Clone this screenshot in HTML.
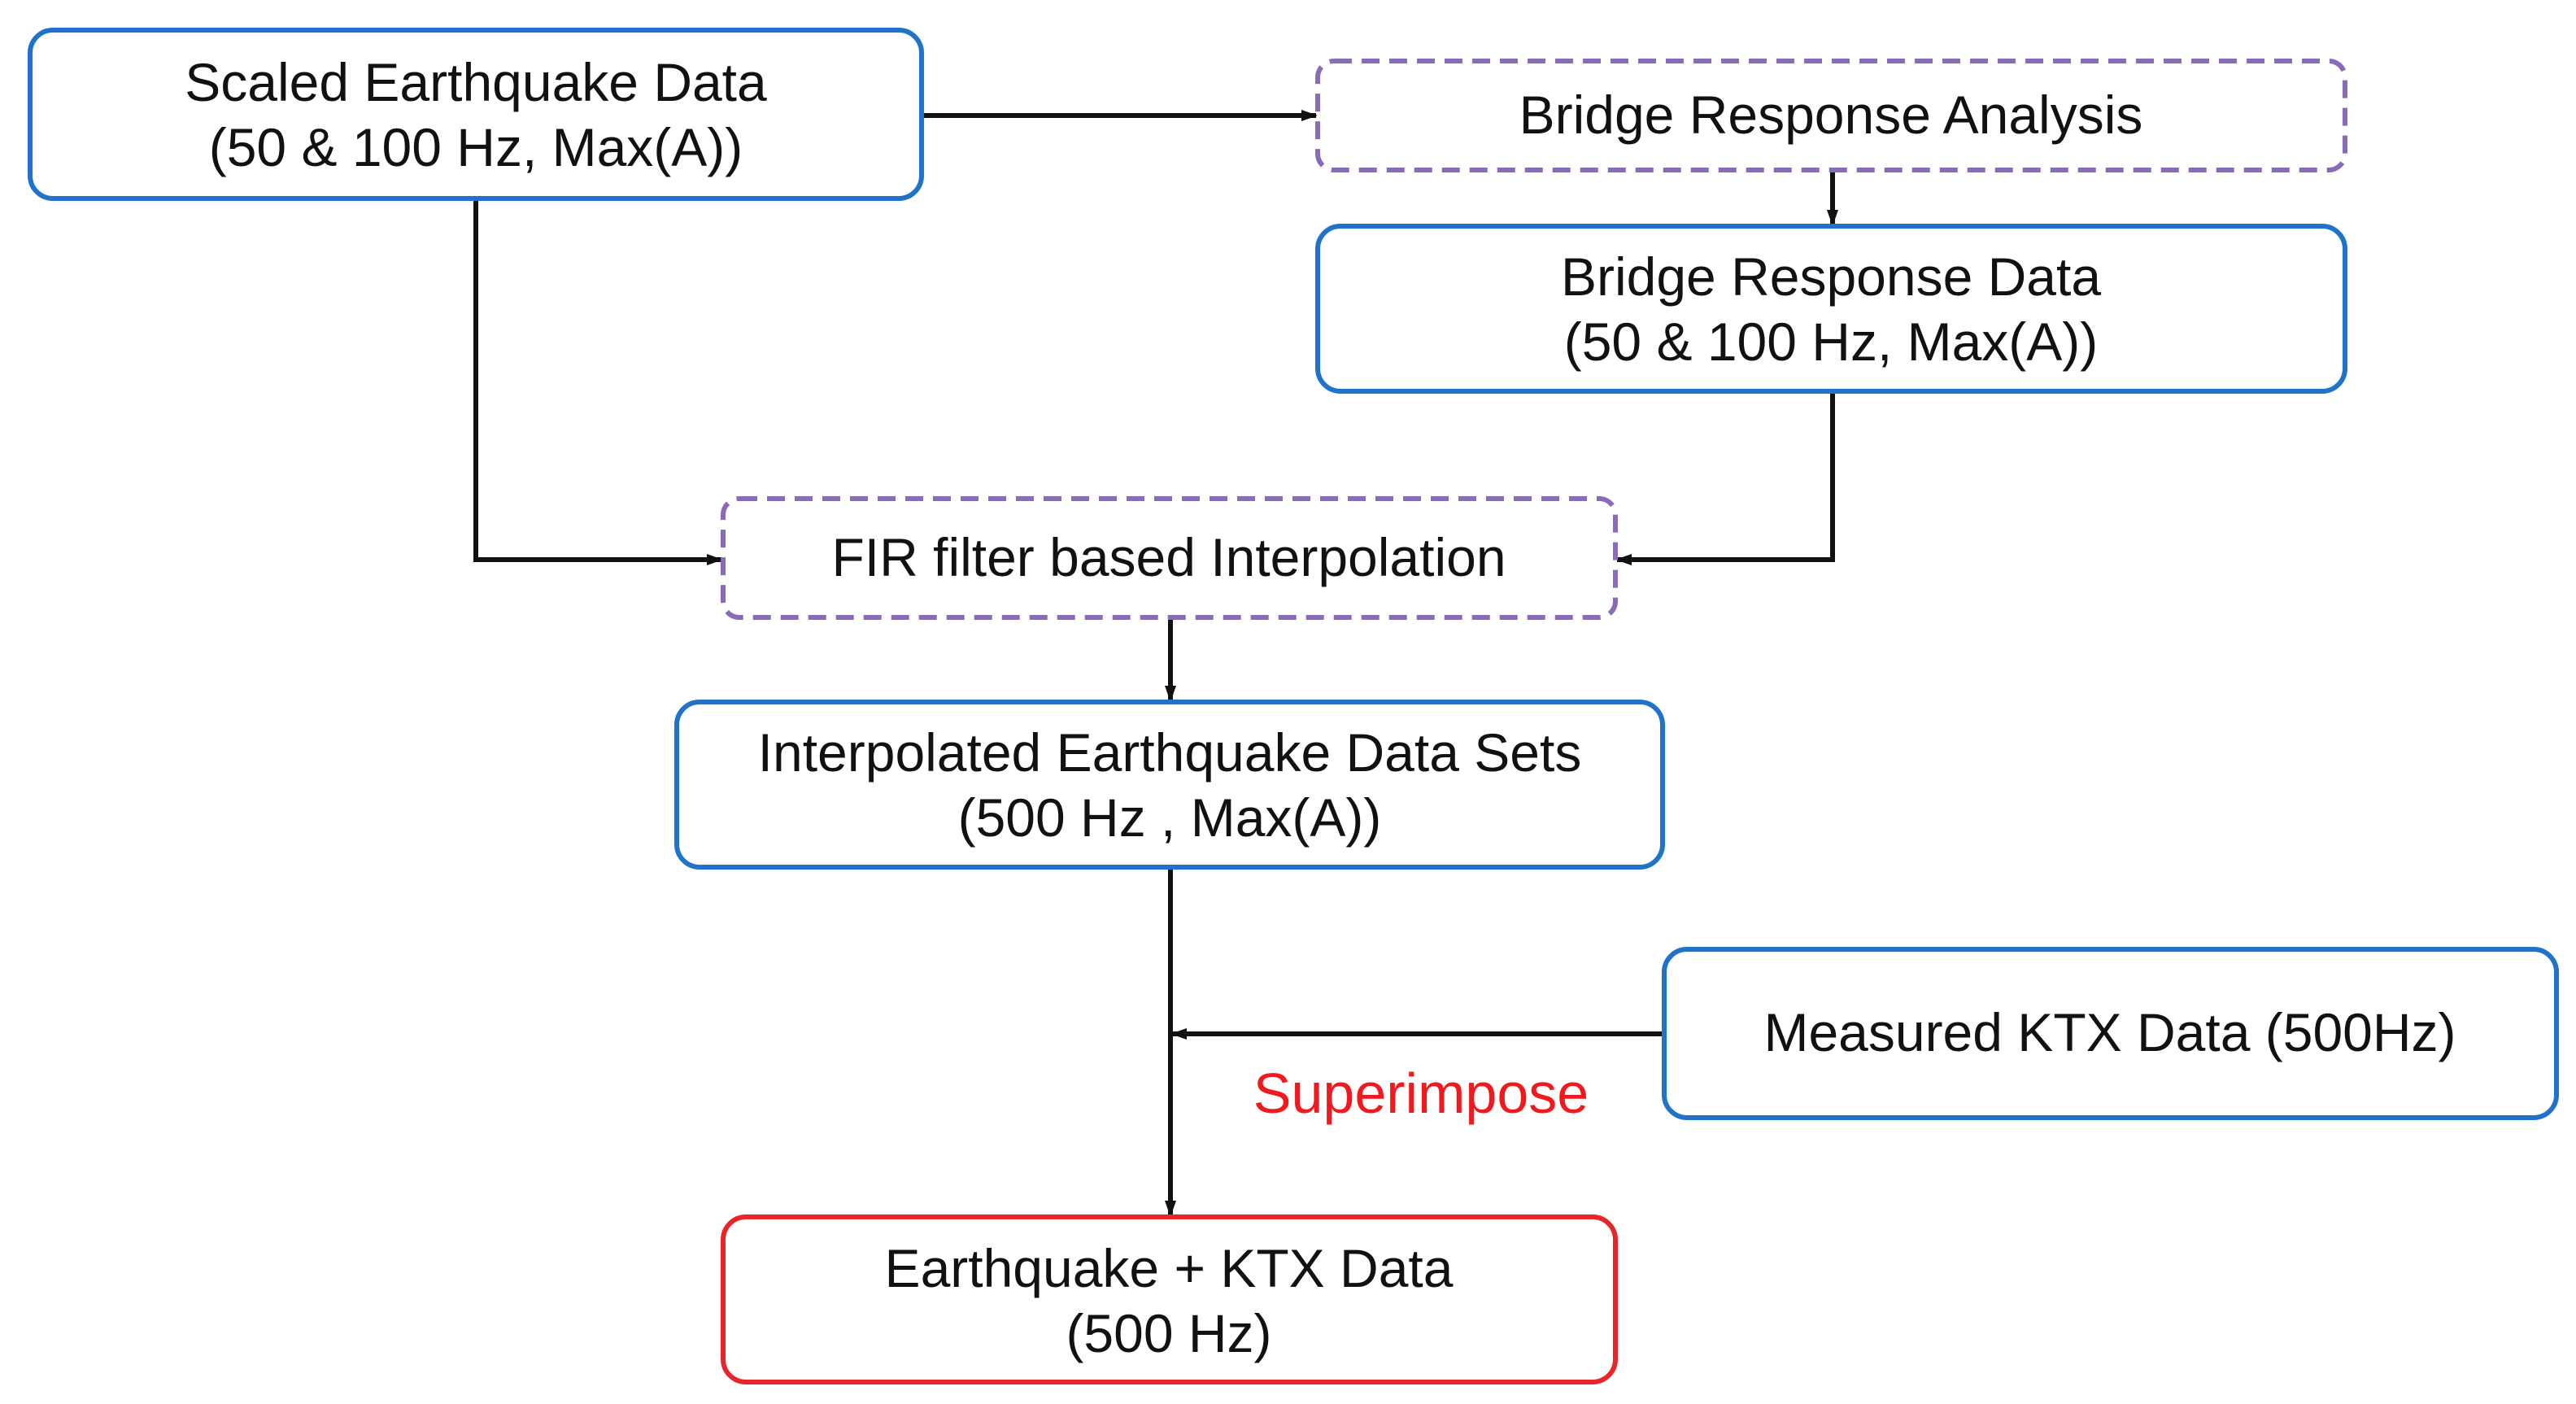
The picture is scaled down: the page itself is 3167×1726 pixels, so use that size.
<!DOCTYPE html>
<html><head><meta charset="utf-8"><style>
html,body{margin:0;padding:0;background:#fff;}
svg{display:block;}
text{font-family:"Liberation Sans","Noto Sans CJK KR",sans-serif;font-size:66px;fill:#111;text-anchor:middle;}
</style></head><body>
<svg width="3167" height="1726" viewBox="0 0 3167 1726" xmlns="http://www.w3.org/2000/svg">
<defs>
<marker id="b" markerWidth="20" markerHeight="20" refX="18" refY="10" orient="auto" markerUnits="userSpaceOnUse" viewBox="0 0 20 20">
<path d="M0,3 L20,10 L0,17 z" fill="#111"/></marker>
</defs>
<g fill="none" stroke="#111" stroke-width="6">
<path d="M1133 142 H1618" marker-end="url(#b)"/>
<path d="M2253 209 V276" marker-end="url(#b)"/>
<path d="M585 244 V688 H887" marker-end="url(#b)"/>
<path d="M2253 481 V688 H1988" marker-end="url(#b)"/>
<path d="M1439 759 V861" marker-end="url(#b)"/>
<path d="M1439 1066 V1494" marker-end="url(#b)"/>
<path d="M2046 1271 H1441" marker-end="url(#b)"/>
</g>
<g fill="#fff" stroke-width="6">
<rect x="37" y="37" width="1096" height="207" rx="28" stroke="#1f73c8"/>
<rect x="1620" y="75" width="1263" height="134" rx="20" stroke="#8a6bb8" stroke-dasharray="22 12"/>
<rect x="1620" y="278" width="1263" height="203" rx="28" stroke="#1f73c8"/>
<rect x="889" y="613" width="1097" height="146" rx="20" stroke="#8a6bb8" stroke-dasharray="22 12"/>
<rect x="832" y="863" width="1212" height="203" rx="28" stroke="#1f73c8"/>
<rect x="2046" y="1167" width="1097" height="207" rx="28" stroke="#1f73c8"/>
<rect x="889" y="1496" width="1097" height="203" rx="28" stroke="#e8262a"/>
</g>
<text x="585" y="124">Scaled Earthquake Data</text>
<text x="585" y="204">(50 &amp; 100 Hz, Max(A))</text>
<text x="2251" y="164">Bridge Response Analysis</text>
<text x="2251" y="363">Bridge Response Data</text>
<text x="2251" y="443">(50 &amp; 100 Hz, Max(A))</text>
<text x="1437" y="708">FIR filter based Interpolation</text>
<text x="1438" y="948">Interpolated Earthquake Data Sets</text>
<text x="1438" y="1028">(500 Hz , Max(A))</text>
<text x="2594" y="1292">Measured KTX Data (500Hz)</text>
<text x="1437" y="1582">Earthquake + KTX Data</text>
<text x="1437" y="1662">(500 Hz)</text>
<text x="1747" y="1368" style="fill:#f2191e;font-size:70px">Superimpose</text>
</svg>
</body></html>
